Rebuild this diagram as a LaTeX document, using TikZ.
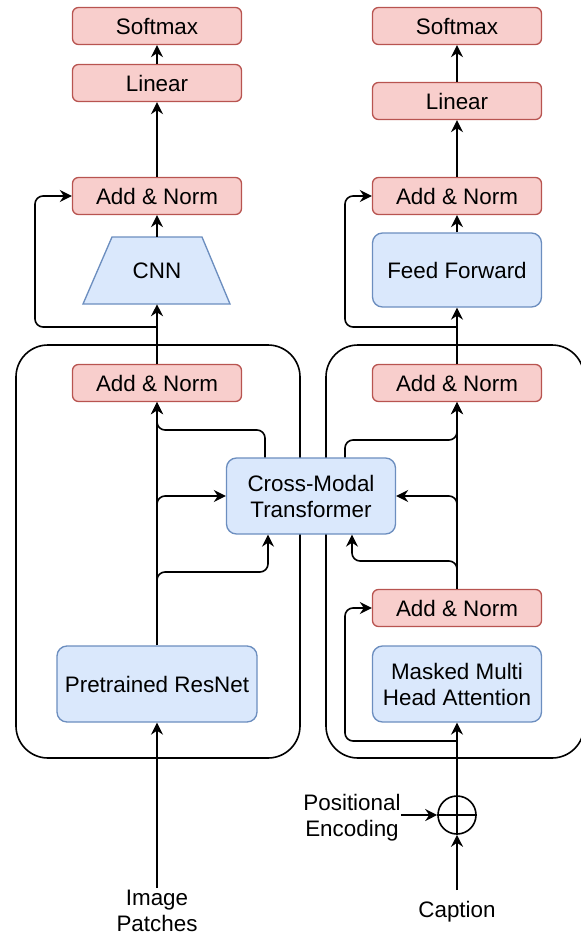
\documentclass[tikz,border=0pt]{standalone}
\usepackage{fontspec}
\setmainfont{Liberation Sans}
\usetikzlibrary{arrows.meta}
\definecolor{redfill}{HTML}{F8CECC}
\definecolor{redline}{HTML}{B85450}
\definecolor{bluefill}{HTML}{DAE8FC}
\definecolor{blueline}{HTML}{6C8EBF}
\newcommand\diaglbl{\fontsize{16.8}{19.5}\selectfont}
\begin{document}
\begin{tikzpicture}[x=0.75pt,y=-0.75pt,
 redbox/.style={draw=redline, fill=redfill, line width=1pt, rounded corners=4.5pt, minimum width=126.75pt, minimum height=27.75pt, inner sep=0pt, font=\diaglbl},
 bluebox/.style={draw=blueline, fill=bluefill, line width=1pt, rounded corners=7.5pt, minimum width=126.75pt, minimum height=57pt, inner sep=0pt, align=center, font=\diaglbl},
 conn/.style={line width=1.2pt, rounded corners=6pt},
 arr/.style={conn, -{Stealth[length=9pt,width=9pt,inset=3pt]}},
 container/.style={line width=1.2pt, rounded corners=24pt},
 txt/.style={align=center, font=\diaglbl, inner sep=0pt},
]
\useasboundingbox (0,0) rectangle (581,936);
\clip (0,0) rectangle (581,936);

% containers
\draw[container] (16,345) rectangle (300,758);
\draw[container] (326,345) rectangle (584,758);

% left column
\node[redbox] (lsoft) at (157,26) {Softmax};
\node[redbox] (llin) at (157,83) {Linear};
\node[redbox] (ladd2) at (157,196) {Add \& Norm};
\filldraw[draw=blueline, fill=bluefill, line width=1pt] (112,237) -- (202,237) -- (230,304) -- (83,304) -- cycle;
\node[txt, minimum width=110.25pt, minimum height=50.25pt] (cnn) at (157,270.5) {CNN};
\node[redbox] (ladd1) at (157,383) {Add \& Norm};
\node[bluebox, minimum width=150pt] (resnet) at (157,684) {Pretrained ResNet};
\node[txt] (patches) at (157,911) {Image\\Patches};

% middle
\node[bluebox] (cm) at (311,496) {Cross-Modal\\Transformer};

% right column
\node[redbox] (rsoft) at (457,26) {Softmax};
\node[redbox] (rlin) at (457,101) {Linear};
\node[redbox] (radd3) at (457,196) {Add \& Norm};
\node[bluebox, minimum height=55.5pt] (ff) at (457,270) {Feed Forward};
\node[redbox] (radd2) at (457,383) {Add \& Norm};
\node[redbox] (radd1) at (457,608) {Add \& Norm};
\node[bluebox] (mmha) at (457,684) {Masked Multi\\Head Attention};
\node[draw, circle, line width=1.2pt, minimum size=28.5pt, inner sep=0pt] (plus) at (457,815) {};
\draw[line width=1.2pt] (plus.north) -- (plus.south) (plus.west) -- (plus.east);
\node[txt] (pe) at (352,818) {Positional\\Encoding};
\node[txt] (cap) at (457,912) {Caption};

% coordinates
\coordinate (lskip) at (157,327);
\coordinate (pin) at (157,888);
\coordinate (lt) at (265,430);
\coordinate (lb) at (268,572);
\coordinate (rt) at (345,440);
\coordinate (rb) at (352,561);
\coordinate (rskip) at (457,327);
\coordinate (rskip2) at (457,741);
\coordinate (capin) at (457,890);

% left connectors
\draw[arr] (llin) -- (lsoft);
\draw[arr] (ladd2) -- (llin);
\draw[arr] (cnn) -- (ladd2);
\draw[arr] (ladd1) -- (cnn);
\draw[arr] (lskip) -- (35,327) -- (35,196) -- (ladd2.west);
\draw[arr] (resnet) -- (ladd1);
\draw[arr] (pin) -- (resnet);
\draw[arr] (157,512) -- (157,496) -- (cm.west);
\draw[arr] (157,588) -- (lb -| 157,0) -- (lb) -- (lb |- cm.south);
\draw[arr] (lt |- cm.north) -- (lt) -- (157,430) -- (ladd1.south);

% right connectors
\draw[arr] (rlin) -- (rsoft);
\draw[arr] (radd3) -- (rlin);
\draw[arr] (ff) -- (radd3);
\draw[arr] (radd2) -- (ff);
\draw[arr] (rskip) -- (345,327) -- (345,196) -- (radd3.west);
\draw[arr] (radd1) -- (radd2);
\draw[arr] (457,512) -- (457,496) -- (cm.east);
\draw[arr] (457,576) -- (457,561) -- (rb) -- (rb |- cm.south);
\draw[arr] (rt |- cm.north) -- (rt) -- (457,440) -- (radd2.south);
\draw[arr] (plus) -- (mmha);
\draw[arr] (rskip2) -- (345,741) -- (345,608) -- (radd1.west);
\draw[arr] (pe.east |- plus.west) -- (plus.west);
\draw[arr] (capin) -- (plus.south);
\end{tikzpicture}
\end{document}
